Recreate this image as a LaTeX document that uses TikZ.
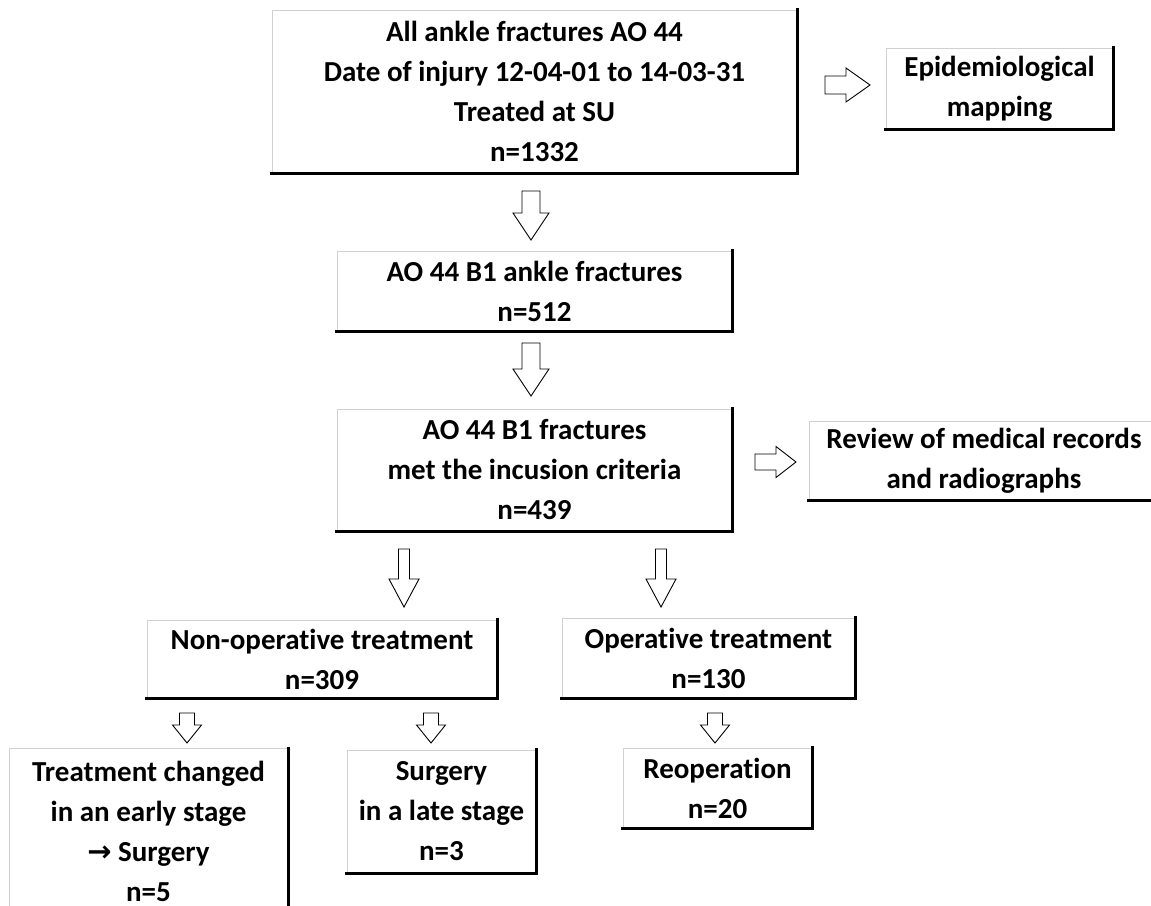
\documentclass[tikz,border=0pt]{standalone}
\usepackage{fontspec}
\setmainfont{Carlito}[Ligatures=NoCommon]
\newfontfamily\dejavu{DejaVu Sans}
\tikzset{
  box/.style={draw=black!18, line width=0.8pt, fill=white, rectangle, inner sep=0pt,
    align=center, font=\fontsize{29}{40}\selectfont\bfseries},
  shadowln/.style={draw=black, line width=3pt, line cap=rect},
  blockarr/.style={draw=black, line width=0.9pt, fill=white, line join=miter},
}
% down arrow: center x, top y, length, shaft, head, headlen
\newcommand\dnarrowshape[6]{%
  \draw[blockarr] ({#1-#4/2},#2) -- ({#1+#4/2},#2) -- ({#1+#4/2},{#2+#3-#6}) -- ({#1+#5/2},{#2+#3-#6})
    -- (#1,{#2+#3}) -- ({#1-#5/2},{#2+#3-#6}) -- ({#1-#4/2},{#2+#3-#6}) -- cycle;}
% right arrow: left x, center y, length, shaft, head, headlen
\newcommand\rtarrowshape[6]{%
  \draw[blockarr] (#1,{#2-#4/2}) -- ({#1+#3-#6},{#2-#4/2}) -- ({#1+#3-#6},{#2-#5/2}) -- ({#1+#3},#2)
    -- ({#1+#3-#6},{#2+#5/2}) -- ({#1+#3-#6},{#2+#4/2}) -- (#1,{#2+#4/2}) -- cycle;}
\newcommand\shadowbox[1]{\draw[shadowln] (#1.north east) -- (#1.south east) -- (#1.south west);}
\begin{document}
\begin{tikzpicture}[x=1pt,y=-1pt]
\useasboundingbox (0,0) rectangle (1151,905);
\clip (0,0) rectangle (1151,905);
\fill[white] (0,0) rectangle (1151,905);

\node[box, minimum width=525pt, minimum height=163pt] (b1) at (534.5,91.5)
  {All ankle fractures AO 44\\Date of injury 12-04-01 to 14-03-31\\Treated at SU\\n=1332};
\node[box, minimum width=227pt, minimum height=81pt] (epi) at (999.5,88.5)
  {Epidemiological\\mapping};
\node[box, minimum width=395pt, minimum height=80pt] (b2) at (534.5,291)
  {AO 44 B1 ankle fractures\\n=512};
\node[box, minimum width=395pt, minimum height=122pt] (b3) at (534.5,470)
  {AO 44 B1 fractures\\met the incusion criteria\\n=439};
\node[box, minimum width=350pt, minimum height=79pt] (rev) at (984,460.5)
  {Review of medical records\\and radiographs};
\node[box, minimum width=350pt, minimum height=78pt] (nonop) at (322,659)
  {Non-operative treatment\\n=309};
\node[box, minimum width=293pt, minimum height=80pt] (op) at (708.5,658)
  {Operative treatment\\n=130};
\node[box, minimum width=279pt, minimum height=165pt] (early) at (148.5,831)
  {Treatment changed\\in an early stage\\{\dejavu\bfseries\fontsize{29}{40}\selectfont →} Surgery\\n=5};
\node[box, minimum width=189pt, minimum height=123pt] (late) at (441.5,811.5)
  {Surgery\\in a late stage\\n=3};
\node[box, minimum width=189pt, minimum height=80pt] (reop) at (717.5,788)
  {Reoperation\\n=20};

\foreach \n in {b1,epi,b2,b3,rev,nonop,op,early,late,reop} {\shadowbox{\n}}

% block arrows
\dnarrowshape{531}{191}{49}{18}{36}{27}
\dnarrowshape{531}{343}{53}{18}{36}{27}
\rtarrowshape{825}{85}{45}{18}{34}{24}
\rtarrowshape{755}{462}{41}{16}{31}{20}
\dnarrowshape{404}{549}{58}{11}{30}{28}
\dnarrowshape{661}{549}{58}{11}{30}{28}
\dnarrowshape{187}{713}{30}{15}{29}{18}
\dnarrowshape{431}{713}{30}{15}{29}{18}
\dnarrowshape{715}{713}{30}{15}{29}{18}
\end{tikzpicture}
\end{document}
